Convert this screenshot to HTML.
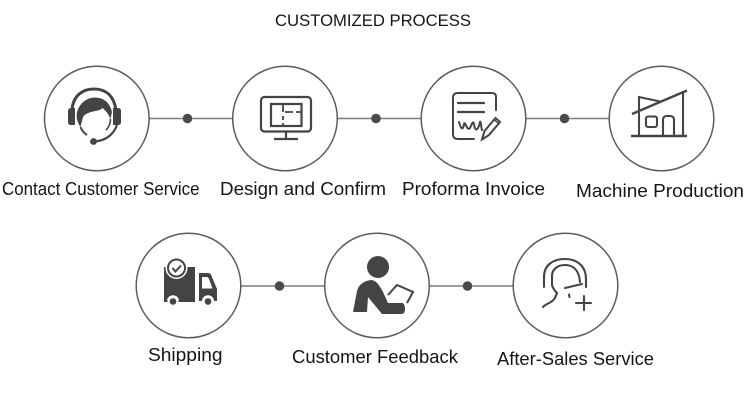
<!DOCTYPE html>
<html><head><meta charset="utf-8">
<style>html,body{margin:0;padding:0;background:#fff;width:750px;height:400px;overflow:hidden}svg{display:block}
text{font-family:"Liberation Sans",sans-serif;fill:#151515;font-size:18px}</style></head>
<body>
<svg width="750" height="400" viewBox="0 0 750 400">
<text x="275" y="26" textLength="196" lengthAdjust="spacingAndGlyphs" style="font-size:17px">CUSTOMIZED PROCESS</text>

<g stroke="#7d7d7d" stroke-width="1.6">
<line x1="149" y1="118.500" x2="233" y2="118.500"/>
<line x1="337" y1="118.500" x2="421" y2="118.500"/>
<line x1="526" y1="118.500" x2="609" y2="118.500"/>
<line x1="241" y1="286" x2="325" y2="286"/>
<line x1="429" y1="286" x2="513" y2="286"/>
</g>
<g fill="#4a4a4a">
<circle cx="187.500" cy="118.500" r="4.800"/>
<circle cx="376" cy="118.500" r="4.800"/>
<circle cx="564.500" cy="118.500" r="4.800"/>
<circle cx="279.500" cy="286" r="4.800"/>
<circle cx="467.500" cy="286" r="4.800"/>
</g>
<g fill="#fff" stroke="#5c5c5c" stroke-width="1.500">
<circle cx="96.800" cy="118.500" r="52.300"/>
<circle cx="285" cy="118.500" r="52.300"/>
<circle cx="473.500" cy="118.500" r="52.300"/>
<circle cx="661.500" cy="118.500" r="52.300"/>
<circle cx="188.500" cy="285.500" r="52.300"/>
<circle cx="377" cy="285.500" r="52.300"/>
<circle cx="565.500" cy="285.500" r="52.300"/>
</g>

<!-- headset -->
<g>
<path d="M72 110 C73 96 82 89 94 89 C106 89 114 96 116 110" fill="none" stroke="#444" stroke-width="3"/>
<path d="M77 112 C80 102 88 97.500 95 97.500 C104 97.500 110 103 112 112 L110.500 119 C108 113 105 110 102.500 108 C100 112 88 110 83 117 L80.500 127 C77 122 76 117 77 112Z" fill="#444"/>
<path d="M68 111 Q68 108 71 108 H75 V125 H71 Q68 125 68 122Z" fill="#444"/>
<path d="M121 111 Q121 108 118 108 H113 V125 H118 Q121 125 121 122Z" fill="#444"/>
<path d="M80.500 127 C82 131 84 133 87 135" fill="none" stroke="#444" stroke-width="2"/>
<path d="M110.500 119 C110.500 123 109 127 106 130" fill="none" stroke="#444" stroke-width="1.600"/>
<path d="M94 141.500 C104 141 113 136 117 125" fill="none" stroke="#444" stroke-width="2.200"/>
<circle cx="93.500" cy="141.500" r="3.400" fill="#444"/>
</g>

<!-- monitor -->
<g fill="none" stroke="#444" stroke-width="2.200">
<rect x="261" y="97" width="50" height="34.500" rx="3.500"/>
<rect x="271" y="104" width="30.500" height="22"/>
<path d="M283 104 V112 M283 116 V120 M283 123 V126 M285 112 H293 M296 112 H301" stroke-width="1.800"/>
<path d="M286 131.500 V138 M274 139 H298"/>
</g>

<!-- invoice -->
<g fill="none" stroke="#444" stroke-width="2" stroke-linecap="round">
<path d="M496 110 V97 Q496 93 492 93 L458 93 Q453 93 453 98 L453 134 Q453 139 458 139 L474 139"/>
<path d="M458 103 H484 M458 112 H484" stroke-width="2.200"/>
<path d="M459 122 C461 129 463 131 464 124 C465 120 467 132 470 128 C472 124 473 120 474 124 C475 132 478 131 480 122 C481 120 481 128 482 130"/>
<path d="M482 139.500 L484.500 131 L495.500 118 L500 122 L489 135 Z"/>
<path d="M494 119.500 L498.500 123.500" stroke-width="1.500"/>
</g>

<!-- house -->
<g fill="none" stroke="#444" stroke-width="2.100">
<path d="M632 114 L687 90.500" stroke-width="2.400"/>
<path d="M639 136 V97 L660 101.500" />
<path d="M683 92 V136" />
<path d="M631 136 H687" stroke-width="2.400"/>
<rect x="646" y="116.500" width="11" height="10.500" rx="2"/>
<path d="M663 136 V120 Q663 116 667 116 H670 Q674 116 674 120 V136"/>
</g>

<!-- truck -->
<g>
<rect x="164" y="267" width="31" height="34" fill="#444"/>
<path d="M199 273 H208 Q211 273 212 277 L217 289 V301 H199Z" fill="#444"/>
<path d="M202 277 H207 Q208 277 209 279 L212.500 288.500 H202Z" fill="#fff"/>
<circle cx="176.500" cy="268" r="11" fill="#fff"/>
<circle cx="176.500" cy="268" r="8.500" fill="#fff" stroke="#444" stroke-width="2"/>
<path d="M172.500 268 L175.500 271.500 L181 265.500" fill="none" stroke="#444" stroke-width="2"/>
<circle cx="173" cy="301.500" r="6.200" fill="#fff"/>
<circle cx="208" cy="301.500" r="6.200" fill="#fff"/>
<circle cx="173" cy="301.500" r="3.300" fill="#444"/>
<circle cx="208" cy="301.500" r="3.300" fill="#444"/>
<rect x="164" y="300" width="3.500" height="2" fill="#444"/>
<rect x="178.500" y="300" width="16.500" height="2" fill="#444"/>
</g>

<!-- customer feedback -->
<g>
<circle cx="378" cy="267" r="11" fill="#444"/>
<path d="M353 312 L357 291 C359 284 364 281 371 280 C376 280 380 286 383 292 L388 303 L402 303 C404 303 405 306 405 309 C405 312 404 314 401 314 L382 314 L368 297 L367 312Z" fill="#444"/>
<path d="M388 295 L397 285 L413 292 L407 303" fill="none" stroke="#444" stroke-width="2"/>
</g>

<!-- after sales -->
<g fill="none" stroke="#444" stroke-width="2.100" stroke-linecap="round">
<path d="M544 287 V277 C544 265 553 259 565 259 C577 259 586 266 586 279 V287"/>
<path d="M552 285 V276 C552 269 558 265 565 265 C573 265 579 270 580 282"/>
<path d="M552 285 C553 289 555 291 557 293 L555 298 C552 303 547 303 543 307"/>
<path d="M565 288 L582 284"/>
<path d="M569 294.500 L569.500 297"/>
<path d="M584 296 V310 M576 303 H591"/>
</g>

<text x="2" y="195" textLength="197.500" lengthAdjust="spacingAndGlyphs">Contact Customer Service</text>
<text x="220" y="195" textLength="166" lengthAdjust="spacingAndGlyphs">Design and Confirm</text>
<text x="402" y="195" textLength="143" lengthAdjust="spacingAndGlyphs">Proforma Invoice</text>
<text x="576" y="197" textLength="168" lengthAdjust="spacingAndGlyphs">Machine Production</text>
<text x="148" y="361" textLength="74.500" lengthAdjust="spacingAndGlyphs">Shipping</text>
<text x="292" y="363" textLength="166" lengthAdjust="spacingAndGlyphs">Customer Feedback</text>
<text x="497" y="365" textLength="157" lengthAdjust="spacingAndGlyphs">After-Sales Service</text>
</svg>
</body></html>
